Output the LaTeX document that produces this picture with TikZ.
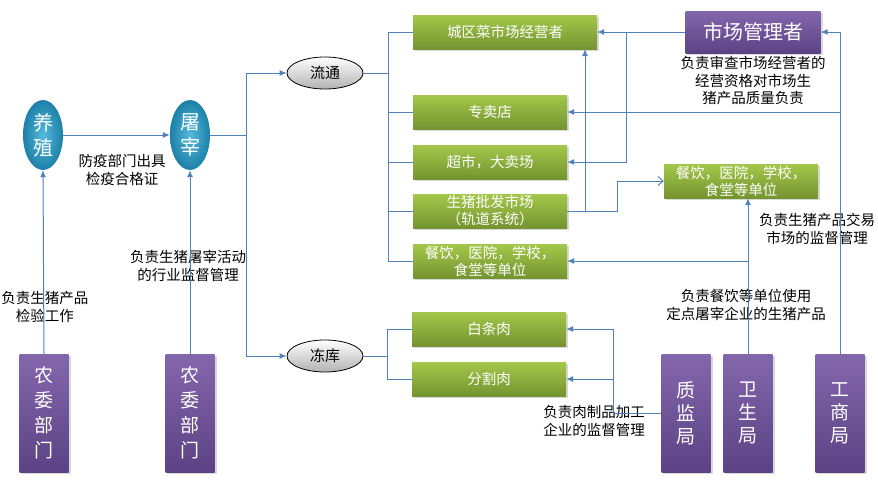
\documentclass[tikz,border=0pt]{standalone}
\usepackage{fontspec}
\setmainfont{Noto Sans CJK SC}
\usepackage{tikz}
\usetikzlibrary{arrows.meta,positioning,shapes.geometric,shadows}

\definecolor{flowblue}{RGB}{79,129,189}
\definecolor{greentop}{RGB}{163,199,74}
\definecolor{greenbot}{RGB}{116,148,48}
\definecolor{purptop}{RGB}{132,102,172}
\definecolor{purpbot}{RGB}{92,66,132}
\definecolor{tealin}{RGB}{86,186,220}
\definecolor{tealout}{RGB}{28,128,168}

\begin{document}
\begin{tikzpicture}[x=1pt, y=-1pt,
    flow/.style={draw=flowblue, line width=1pt, -{Latex[length=7pt,width=6pt]}},
    link/.style={draw=flowblue, line width=1pt},
    openflow/.style={draw=flowblue, line width=1pt, -{Straight Barb[length=5pt,width=9pt]}},
    greenbox/.style={rectangle, top color=greentop, bottom color=greenbot, text=white,
        minimum width=154pt, minimum height=34pt, inner sep=0pt, align=center,
        font=\fontsize{14.5}{17}\selectfont,
        drop shadow={opacity=0.3, shadow xshift=2pt, shadow yshift=-2pt}},
    purplebox/.style={rectangle, top color=purptop, bottom color=purpbot, text=white,
        minimum width=49pt, minimum height=118pt, inner sep=0pt, align=center,
        font=\fontsize{19}{25}\selectfont,
        drop shadow={opacity=0.3, shadow xshift=2pt, shadow yshift=-2pt}},
    stage/.style={ellipse, inner color=tealin, outer color=tealout, text=white,
        minimum width=40pt, minimum height=70pt, inner sep=0pt, align=center,
        font=\fontsize{20}{25}\selectfont},
    route/.style={ellipse, draw=black, line width=0.8pt, top color=white, bottom color=black!30,
        minimum width=76pt, minimum height=32pt, inner sep=0pt,
        font=\fontsize{15}{18}\selectfont},
    note/.style={align=center, inner sep=0pt, font=\fontsize{14.5}{17.5}\selectfont}]

    \useasboundingbox (0,0) rectangle (878,488);

    \node[stage] (yangzhi) at (43,135) {养\\殖};
    \node[stage] (tuzai) at (190,135) {屠\\宰};
    \node[route] (liutong) at (325,73) {流通};
    \node[route] (dongku) at (325,356) {冻库};

    \node[greenbox, minimum width=184pt] (chengqu) at (505,32) {城区菜市场经营者};
    \node[greenbox] (zhuanmai) at (490,112) {专卖店};
    \node[greenbox] (chaoshi) at (490,162) {超市，大卖场};
    \node[greenbox] (pifa) at (490,211) {生猪批发市场\\（轨道系统）};
    \node[greenbox] (canyin) at (490,261) {餐饮，医院，学校，\\食堂等单位};
    \node[greenbox] (baitiao) at (489,329) {白条肉};
    \node[greenbox] (fenge) at (489,379) {分割肉};
    \node[greenbox] (canyinb) at (741,181) {餐饮，医院，学校，\\食堂等单位};

    \node[purplebox, minimum width=135pt, minimum height=42pt, font=\fontsize{20}{24}\selectfont]
        (shichang) at (753,32) {市场管理者};
    \node[purplebox] (nongweia) at (44,413) {农\\委\\部\\门};
    \node[purplebox] (nongweib) at (190,413) {农\\委\\部\\门};
    \node[purplebox, font=\fontsize{19}{23}\selectfont] (zhijian) at (686,413) {质\\监\\局};
    \node[purplebox, font=\fontsize{19}{23}\selectfont] (weisheng) at (748,413) {卫\\生\\局};
    \node[purplebox, font=\fontsize{19}{23}\selectfont] (gongshang) at (840,413) {工\\商\\局};

    \node[note] (jianyi) at (122,170) {防疫部门出具\\检疫合格证};
    \node[note] (jianyan) at (45,307) {负责生猪产品\\检验工作};
    \node[note] (hangye) at (188,266) {负责生猪屠宰活动\\的行业监督管理};
    \node[note, align=left] (jiagong) at (594,421) {负责肉制品加工\\企业的监督管理};
    \node[note] (dingdian) at (746,305) {负责餐饮等单位使用\\定点屠宰企业的生猪产品};
    \node[note] (jiaoyi) at (817,229) {负责生猪产品交易\\市场的监督管理};
    \node[note, below=3pt of shichang] (shencha) {负责审查市场经营者的\\经营资格对市场生\\猪产品质量负责};

    \draw[flow] (yangzhi) -- (tuzai);
    \draw[flow] (nongweia.north) -- (yangzhi.south);
    \draw[flow] (nongweib.north) -- (tuzai.south);
    \draw[flow] (tuzai.east) -- ++(36,0) |- (liutong.west);
    \draw[flow] (tuzai.east) -- ++(36,0) |- (dongku.west);

    \draw[link] (liutong.east) -- ++(25,0) coordinate (lt);
    \foreach \shop in {chengqu, zhuanmai, chaoshi, pifa, canyin}
        \draw[link] (lt) |- (\shop.west);
    \draw[link] (dongku.east) -- ++(24,0) coordinate (dk);
    \foreach \meat in {baitiao, fenge}
        \draw[link] (dk) |- (\meat.west);

    \draw[flow] (pifa.east) -| ([xshift=80pt]chengqu.south);
    \draw[openflow] (pifa.east) -- ++(50,0) |- (canyinb.west);

    \draw[flow] (shichang) -- (chengqu);
    \draw[flow] (shichang.west) -- ++(-59,0) |- (chaoshi.east);

    \draw[flow] (gongshang.north) |- (shichang.east);
    \draw[flow] (gongshang.north) |- (zhuanmai.east);

    \draw[flow] (weisheng.north) -- (weisheng.north |- canyinb.south);
    \draw[flow] (weisheng.north) |- (canyin.east);

    \draw[flow] (zhijian.west) -- ++(-48,0) |- (baitiao.east);
    \draw[flow] (zhijian.west) -- ++(-48,0) |- (fenge.east);
\end{tikzpicture}
\end{document}
